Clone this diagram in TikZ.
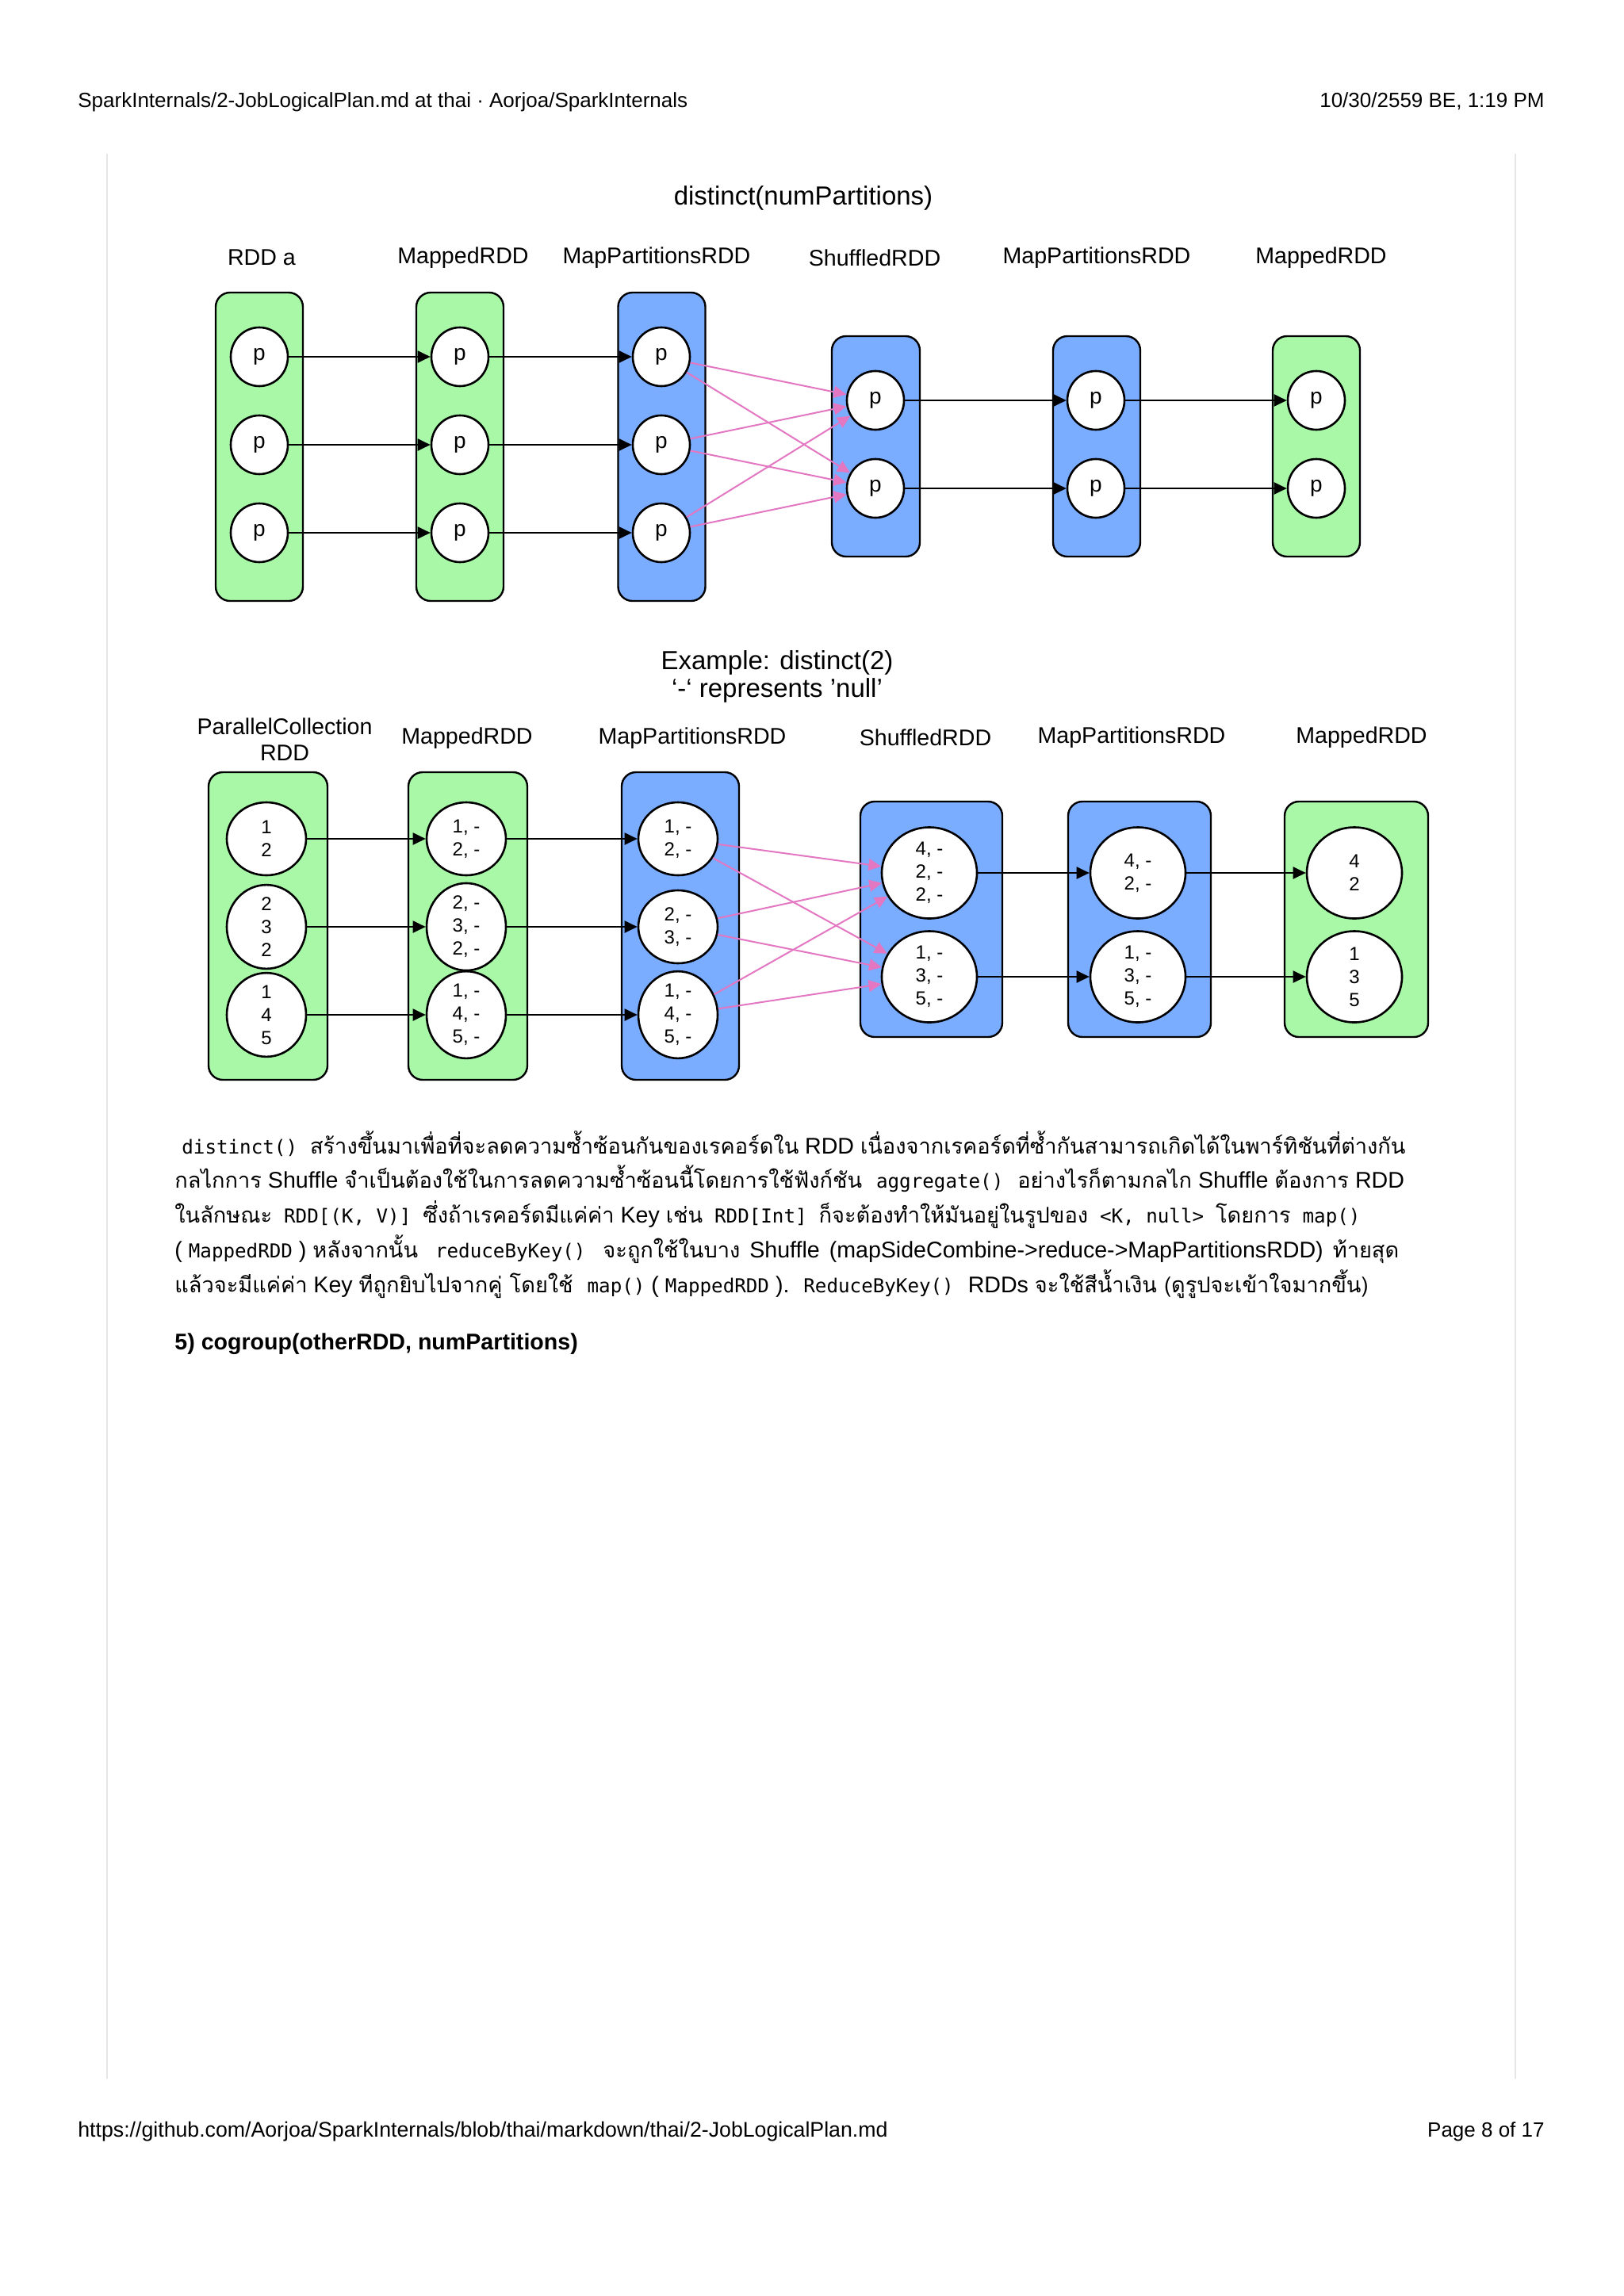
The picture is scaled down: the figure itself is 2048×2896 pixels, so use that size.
\documentclass[tikz,border=0pt]{standalone}
\usepackage{fontspec}
\setmainfont{Liberation Sans}
\newfontfamily\thaifont[Script=Thai]{Loma}
\newfontfamily\codefont{DejaVu Sans Mono}
\usetikzlibrary{arrows.meta,shapes.geometric}
\definecolor{rddgreen}{RGB}{168,248,168}
\definecolor{rddblue}{RGB}{122,172,255}
\definecolor{shufpink}{RGB}{227,119,194}
\definecolor{rulegray}{RGB}{230,230,230}
\newcommand\thx[1]{{\thaifont\fontsize{13.6}{15}\selectfont #1}}
\newcommand\mycode[1]{{\codefont\fontsize{12.1}{14}\selectfont #1}}
\tikzset{
  greenbox/.style={draw=black, line width=1.2pt, rounded corners=9pt, fill=rddgreen, inner sep=0pt},
  bluebox/.style={draw=black, line width=1.2pt, rounded corners=9pt, fill=rddblue, inner sep=0pt},
  part/.style={ellipse, draw=black, line width=1.3pt, fill=white, inner sep=0pt, align=center},
  pone/.style={part, minimum width=36pt, minimum height=37pt, font=\fontsize{14}{16}\selectfont},
  ptwos/.style={part, minimum width=50pt, minimum height=46pt, font=\fontsize{12}{14.5}\selectfont},
  ptwob/.style={part, minimum width=60pt, minimum height=57.5pt, font=\fontsize{12}{14.5}\selectfont},
  lbl/.style={font=\fontsize{14.3}{16.5}\selectfont, inner sep=0pt, align=center},
  ttl/.style={font=\fontsize{16.5}{17.5}\selectfont, inner sep=0pt, align=center},
  flow/.style={line width=1pt, -{Triangle[length=8pt,width=7.5pt]}},
  shuf/.style={draw=shufpink, line width=1pt, -{Triangle[length=8pt,width=7.5pt]}, shufpink},
  hdr/.style={font=\fontsize{13}{15}\selectfont, inner sep=0pt},
  para/.style={font=\fontsize{14.3}{16}\selectfont, inner sep=0pt, anchor=base west}
}
\begin{document}
\begin{tikzpicture}[x=0.5pt,y=-0.5pt]
\useasboundingbox (0,0) rectangle (2048,2896);
\fill[white] (0,0) rectangle (2048,2896);
% page rules
\draw[rulegray, line width=1pt] (135,194) -- (135,2622);
\draw[rulegray, line width=1pt] (1911,194) -- (1911,2622);
% header / footer
\node[hdr, anchor=base west] (hl) at (98,135) {SparkInternals/2-JobLogicalPlan.md at thai · Aorjoa/SparkInternals};
\node[hdr, anchor=base east] (hr) at (1948,135) {10/30/2559 BE, 1:19 PM};
\node[hdr, anchor=base west, font=\fontsize{13.35}{15}\selectfont] (fl) at (98,2695) {https://github.com/Aorjoa/SparkInternals/blob/thai/markdown/thai/2-JobLogicalPlan.md};
\node[hdr, anchor=base east] (fr) at (1948,2695) {Page 8 of 17};

% ================= Diagram 1 =================
\node[ttl] (t1) at (1013,250) {distinct(numPartitions)};
\node[lbl] (l1a) at (330,325) {RDD a};
\node[lbl] (l1b) at (584,325) {MappedRDD};
\node[lbl] (l1c) at (828,325) {MapPartitionsRDD};
\node[lbl] (l1d) at (1103,325) {ShuffledRDD};
\node[lbl] (l1e) at (1383,325) {MapPartitionsRDD};
\node[lbl] (l1f) at (1666,325) {MappedRDD};

\node[greenbox, minimum width=55pt, minimum height=194.5pt] (b1a) at (327,563.5) {};
\node[greenbox, minimum width=55pt, minimum height=194.5pt] (b1b) at (580,563.5) {};
\node[bluebox,  minimum width=55pt, minimum height=194.5pt] (b1c) at (834.5,563.5) {};
\node[bluebox,  minimum width=55.5pt, minimum height=139pt] (b1d) at (1104.5,563) {};
\node[bluebox,  minimum width=55pt, minimum height=139pt] (b1e) at (1383,563) {};
\node[greenbox, minimum width=55pt, minimum height=139pt] (b1f) at (1660,563) {};

\foreach \r/\yy in {1/450,2/561,3/672}{
  \node[pone] (a\r) at (327,\yy) {p};
  \node[pone] (b\r) at (580,\yy) {p};
  \node[pone] (c\r) at (834,\yy) {p};
}
\foreach \r/\yy in {1/505,2/616}{
  \node[pone] (d\r) at (1104,\yy) {p};
  \node[pone] (e\r) at (1382,\yy) {p};
  \node[pone] (f\r) at (1660,\yy) {p};
}
\foreach \r in {1,2,3}{
  \draw[flow] (a\r) -- (b\r);
  \draw[flow] (b\r) -- (c\r);
  \draw[shuf] (c\r) -- (d1);
  \draw[shuf] (c\r) -- (d2);
}
\foreach \r in {1,2}{
  \draw[flow] (d\r) -- (e\r);
  \draw[flow] (e\r) -- (f\r);
}

% ================= Diagram 2 =================
\node[ttl] (t2) at (980,836) {Example: distinct(2)};
\node[ttl] (t3) at (980,871) {‘-‘ represents ’null’};
\node[lbl] (l2a) at (359,933) {ParallelCollection\\RDD};
\node[lbl] (l2b) at (589,931) {MappedRDD};
\node[lbl] (l2c) at (873,931) {MapPartitionsRDD};
\node[lbl] (l2d) at (1167,930) {ShuffledRDD};
\node[lbl] (l2e) at (1427,930) {MapPartitionsRDD};
\node[lbl] (l2f) at (1717,930) {MappedRDD};

\node[greenbox, minimum width=75pt, minimum height=194pt] (b2a) at (338,1168) {};
\node[greenbox, minimum width=75pt, minimum height=194pt] (b2b) at (590,1168) {};
\node[bluebox,  minimum width=74pt, minimum height=194pt] (b2c) at (858,1168) {};
\node[bluebox,  minimum width=89.5pt, minimum height=148.5pt] (b2d) at (1174.5,1159.5) {};
\node[bluebox,  minimum width=90pt, minimum height=148.5pt] (b2e) at (1437,1159.5) {};
\node[greenbox, minimum width=90.5pt, minimum height=148.5pt] (b2f) at (1710.5,1159.5) {};

\node[ptwos] (pa1) at (336,1058) {1\\2};
\node[ptwos] (pa2) at (336,1169) {2\\3\\2};
\node[ptwos] (pa3) at (336,1280) {1\\4\\5};
\node[ptwos] (pb1) at (588,1058) {1, -\\2, -};
\node[ptwos] (pb2) at (588,1169) {2, -\\3, -\\2, -};
\node[ptwos] (pb3) at (588,1280) {1, -\\4, -\\5, -};
\node[ptwos] (pc1) at (855,1058) {1, -\\2, -};
\node[ptwos] (pc2) at (855,1169) {2, -\\3, -};
\node[ptwos] (pc3) at (855,1280) {1, -\\4, -\\5, -};
\node[ptwob] (pd1) at (1172,1101) {4, -\\2, -\\2, -};
\node[ptwob] (pd2) at (1172,1232) {1, -\\3, -\\5, -};
\node[ptwob] (pe1) at (1435,1101) {4, -\\2, -};
\node[ptwob] (pe2) at (1435,1232) {1, -\\3, -\\5, -};
\node[ptwob] (pf1) at (1708,1101) {4\\2};
\node[ptwob] (pf2) at (1708,1232) {1\\3\\5};

\foreach \r in {1,2,3}{
  \draw[flow] (pa\r) -- (pb\r);
  \draw[flow] (pb\r) -- (pc\r);
  \draw[shuf] (pc\r) -- (pd1);
  \draw[shuf] (pc\r) -- (pd2);
}
\foreach \r in {1,2}{
  \draw[flow] (pd\r) -- (pe\r);
  \draw[flow] (pe\r) -- (pf\r);
}

% ================= Paragraph =================
\node[para] (ln1) at (220,1455) {\hspace{4.5pt}\mycode{distinct()}\hspace{4pt} \thx{สร้างขึ้นมาเพื่อที่จะลดความซ้ำซ้อนกันของเรคอร์ดใน} RDD \thx{เนื่องจากเรคอร์ดที่ซ้ำกันสามารถเกิดได้ในพาร์ทิชันที่ต่างกัน}};
\node[para] (ln2) at (220,1498) {\thx{กลไกการ} Shuffle \thx{จำเป็นต้องใช้ในการลดความซ้ำซ้อนนี้โดยการใช้ฟังก์ชัน}\hspace{5pt} \mycode{aggregate()}\hspace{5pt} \thx{อย่างไรก็ตามกลไก} Shuffle \thx{ต้องการ} RDD};
\node[para] (ln3) at (220,1542) {\thx{ในลักษณะ}\hspace{3.5pt} \mycode{RDD[(K, V)]}\hspace{3.5pt} \thx{ซึ่งถ้าเรคอร์ดมีแค่ค่า} Key \thx{เช่น}\hspace{3.5pt} \mycode{RDD[Int]}\hspace{3.5pt} \thx{ก็จะต้องทำให้มันอยู่ในรูปของ}\hspace{3.5pt} \mycode{<K, null>}\hspace{3.5pt} \thx{โดยการ}\hspace{3.5pt} \mycode{map()}};
\node[para] (ln4) at (220,1586) {( \mycode{MappedRDD} ) \thx{หลังจากนั้น}\hspace{7pt} \mycode{reduceByKey()}\hspace{7pt} \thx{จะถูกใช้ในบาง}\hspace{2pt} Shuffle\hspace{2pt} (mapSideCombine->reduce->MapPartitionsRDD)\hspace{2pt} \thx{ท้ายสุด}};
\node[para] (ln5) at (220,1630) {\thx{แล้วจะมีแค่ค่า} Key \thx{ทีถูกยิบไปจากคู่ โดยใช้}\hspace{5pt} \mycode{map()} ( \mycode{MappedRDD} ).\hspace{5pt} \mycode{ReduceByKey()}\hspace{5pt} RDDs \thx{จะใช้สีน้ำเงิน (ดูรูปจะเข้าใจมากขึ้น)}};
\node[para, font=\fontsize{14.3}{16}\selectfont\bfseries] (h5) at (220,1702) {5) cogroup(otherRDD, numPartitions)};
\end{tikzpicture}
\end{document}
